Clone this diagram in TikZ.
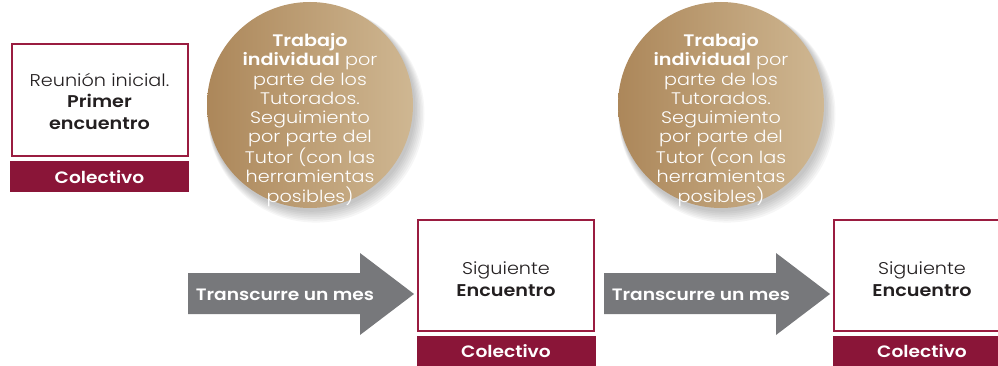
\documentclass[tikz,border=0pt]{standalone}
\usepackage{fontspec}
\setmainfont{Poppins}[BoldFont={Poppins SemiBold}]
\newfontfamily\boxfont{Poppins Light}[FakeStretch=1.13,BoldFont={Poppins SemiBold}]
\newfontfamily\circfont{Poppins Light}[FakeStretch=1.15,BoldFont={Poppins SemiBold}]
\definecolor{maroon}{HTML}{8A1538}
\definecolor{boxline}{HTML}{9A1C40}
\definecolor{arrowgray}{HTML}{77787B}
\definecolor{txt}{HTML}{231F20}
\definecolor{goldL}{HTML}{AC875A}
\definecolor{goldR}{HTML}{CFB792}
\begin{document}
\begin{tikzpicture}[x=1pt,y=-1pt,
  box/.style={draw=boxline,line width=2pt,fill=white,minimum width=176pt,minimum height=111pt,inner sep=0pt},
  boxtext/.style={align=center,text=txt,font=\boxfont\fontsize{17}{21.5}\selectfont,inner sep=0pt},
  tag/.style={fill=maroon,minimum width=179pt,minimum height=31pt,inner sep=0pt,text=white,font=\boxfont\fontsize{16.5}{19}\selectfont\bfseries},
  bubble/.style={circle,minimum size=206pt,inner sep=0pt,shading=axis,left color=goldL,right color=goldR,shading angle=90},
  bubtext/.style={text=white,align=center,inner sep=0pt,font=\circfont\fontsize{16.7}{19.2}\selectfont},
  arrlbl/.style={text=white,inner sep=0pt,font=\boxfont\fontsize{16.5}{19}\selectfont\bfseries}
]
\useasboundingbox (0,0) rectangle (998,366);
% first box
\node[box,minimum height=112pt] (b1) at (99.5,100) {};
\node[boxtext] (b1t) at (99.5,101) {Reunión inicial.\\\textbf{Primer}\\\textbf{encuentro}};
\node[tag] (t1) at (99.5,177) {Colectivo};
% circles with soft shadow
\foreach \cx in {310,721}{
  \foreach \k in {1,...,7}{
    \fill[black,opacity=0.035] (\cx+1+\k*0.7,107+\k*1.0) circle (103+\k*0.8);
  }
}
\node[bubble] (c1) at (310,105) {};
\node[bubtext] (c1t) at (310,120) {\textbf{Trabajo}\\\textbf{individual} por\\parte de los\\Tutorados.\\Seguimiento\\por parte del\\Tutor (con las\\herramientas\\posibles)};
\node[bubble] (c2) at (721,105) {};
\node[bubtext] (c2t) at (721,120) {\textbf{Trabajo}\\\textbf{individual} por\\parte de los\\Tutorados.\\Seguimiento\\por parte del\\Tutor (con las\\herramientas\\posibles)};
% arrows
\fill[arrowgray] (188,273) -- (360,273) -- (360,253) -- (414,294) -- (360,335) -- (360,314) -- (188,314) -- cycle;
\node[arrlbl] (l1) at (285,295) {Transcurre un mes};
\fill[arrowgray] (604,273) -- (776,273) -- (776,253) -- (830,294) -- (776,335) -- (776,314) -- (604,314) -- cycle;
\node[arrlbl] (l2) at (701,295) {Transcurre un mes};
% second and third boxes
\node[box] (b2) at (506,275) {};
\node[boxtext] (b2t) at (506,279) {Siguiente\\\textbf{Encuentro}};
\node[tag] (t2) at (506,351) {Colectivo};
\node[box] (b3) at (922,275) {};
\node[boxtext] (b3t) at (922,279) {Siguiente\\\textbf{Encuentro}};
\node[tag] (t3) at (922,351) {Colectivo};
\end{tikzpicture}
\end{document}
